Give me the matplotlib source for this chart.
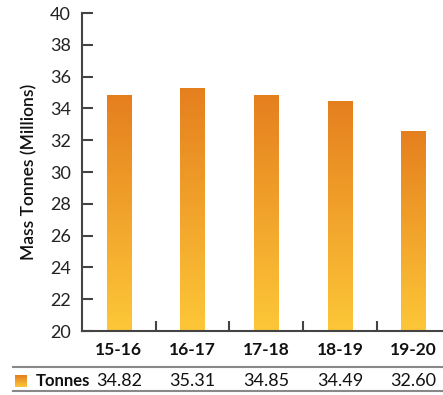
import numpy as np
import matplotlib.pyplot as plt
from matplotlib.colors import LinearSegmentedColormap
from matplotlib.transforms import blended_transform_factory

categories = ["15-16", "16-17", "17-18", "18-19", "19-20"]
tonnes = [34.82, 35.31, 34.85, 34.49, 32.60]
series_name = "Tonnes"
y_ticks = [20, 22, 24, 26, 28, 30, 32, 34, 36, 38, 40]

plt.rcParams['font.family'] = ['Lato', 'DejaVu Sans']

fig = plt.figure(figsize=(4.43, 3.95), dpi=100)
ax = fig.add_axes([0.1851, 0.162, 0.8318, 0.805])

grad = LinearSegmentedColormap.from_list("og", ["#FDC738", "#E57F1E"])
gimg = np.linspace(0, 1, 256).reshape(-1, 1)

x = np.arange(len(categories))
bar_w = 0.33
bars = ax.bar(x, tonnes, width=bar_w, bottom=0, color="none", edgecolor="none")
for b, v in zip(bars, tonnes):
    x0 = b.get_x()
    im = ax.imshow(gimg, cmap=grad, aspect="auto", origin="lower",
                   extent=[x0, x0 + bar_w, 20, v], zorder=2)
    im.set_clip_path(b)

ax.set_xlim(-0.5, len(categories) - 0.5)
ax.set_ylim(20, 40)
ax.set_yticks(y_ticks)
ax.set_xticks(np.arange(len(categories) - 1) + 0.5)
ax.set_xticklabels([])
ax.tick_params(axis="y", direction="in", length=8, width=1.5, color="#444444",
               labelsize=13, labelcolor="#222222", pad=8)
ax.tick_params(axis="x", direction="in", length=7, width=1.5, color="#444444")
for s in ["top", "right"]:
    ax.spines[s].set_visible(False)
for s in ["left", "bottom"]:
    ax.spines[s].set_color("#444444")
    ax.spines[s].set_linewidth(1.5)

ax.set_ylabel("Mass Tonnes (Millions)", fontsize=12.5, fontweight="semibold",
              color="#111111", labelpad=9)

# data table below the plot
tr = blended_transform_factory(ax.transData, fig.transFigure)
for i, c in enumerate(categories):
    ax.text(i, 1 - 350 / 395, c, transform=tr, ha="center", va="center",
            fontsize=12.5, fontweight="bold", color="#111111")
    ax.text(i, 1 - 381 / 395, f"{tonnes[i]:.2f}", transform=tr, ha="center",
            va="center", fontsize=13, color="#111111")

for yy in [367, 391]:
    fig.add_artist(plt.Line2D([13 / 443, 1.0], [1 - yy / 395] * 2,
                              color="#888888", lw=1.5, transform=fig.transFigure))

# legend swatch with the same gradient
sw = fig.add_axes([15 / 443, 1 - 387 / 395, 12 / 443, 12 / 395])
sw.imshow(gimg, cmap=grad, aspect="auto", origin="lower")
sw.axis("off")
fig.text(36 / 443, 1 - 381 / 395, series_name, ha="left", va="center",
         fontsize=12, fontweight="bold", color="#111111")

fig.savefig("out.png", dpi=100)
